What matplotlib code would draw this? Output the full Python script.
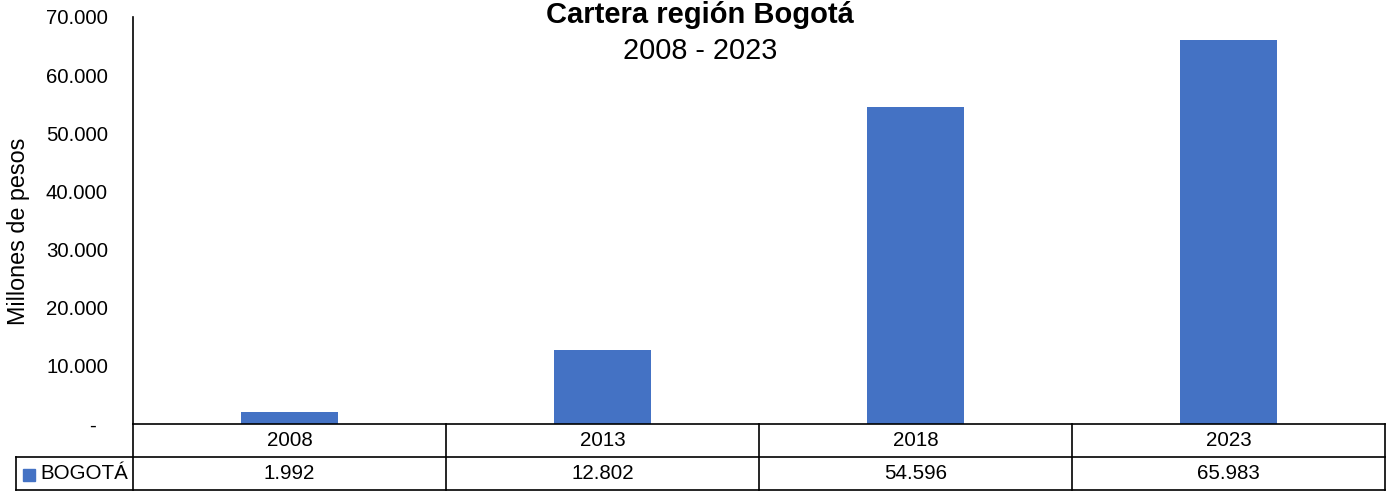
import numpy as np
import matplotlib.pyplot as plt
from matplotlib.ticker import FuncFormatter
from matplotlib.patches import Rectangle

plt.rcParams['font.family'] = ['Liberation Sans', 'DejaVu Sans']

# Data
years = ['2008', '2013', '2018', '2023']
bogota = [1992, 12802, 54596, 65983]
series_name = 'BOGOTÁ'
value_labels = ['1.992', '12.802', '54.596', '65.983']

color = '#4472C4'
W, H = 1391, 492

fig = plt.figure(figsize=(W / 100, H / 100), dpi=100)

# main plot area
ax = fig.add_axes([133 / W, (H - 424) / H, (1385 - 133) / W, (424 - 17) / H])
x = np.arange(len(years))
ax.bar(x, bogota, width=0.31, color=color)
ax.set_xlim(-0.5, len(years) - 0.5)
ax.set_ylim(0, 70000)
ax.set_yticks(np.arange(0, 70001, 10000))


def fmt(v, pos):
    if v == 0:
        return '-  '
    return f'{int(v):,}'.replace(',', '.')


ax.yaxis.set_major_formatter(FuncFormatter(fmt))
ax.tick_params(axis='y', length=0, pad=18, labelsize=14.7)
ax.set_xticks([])
for s in ['top', 'right', 'bottom']:
    ax.spines[s].set_visible(False)
ax.spines['left'].set_linewidth(1.2)
fig.text(19 / W, 1 - 231 / H, 'Millones de pesos', rotation=90, ha='center',
         va='center', fontsize=16.8)

# data table below
lab_w = (133 - 16) / ((1385 - 133) / len(years))
tx = fig.add_axes([16 / W, (H - 490) / H, (1385 - 16) / W, (490 - 424) / H])
tx.set_xlim(-0.5 - lab_w, len(years) - 0.5)
tx.set_ylim(2, 0)
tx.axis('off')
lw = 1.2
kw = dict(color='black', lw=lw, clip_on=False)
# horizontal lines
tx.plot([-0.5, len(years) - 0.5], [0, 0], **kw)
tx.plot([-0.5 - lab_w, len(years) - 0.5], [1, 1], **kw)
tx.plot([-0.5 - lab_w, len(years) - 0.5], [2, 2], **kw)
# vertical lines
tx.plot([-0.5 - lab_w, -0.5 - lab_w], [1, 2], **kw)
for i in range(len(years) + 1):
    tx.plot([i - 0.5, i - 0.5], [0, 2], **kw)
for i, (yr, v) in enumerate(zip(years, value_labels)):
    tx.text(i, 0.5, yr, ha='center', va='center', fontsize=14.8)
    tx.text(i, 1.5, v, ha='center', va='center', fontsize=14.8)
# legend key in table
px = 1 / ((1385 - 133) / len(years))
tx.add_patch(Rectangle((-0.5 - lab_w + 7 * px, 1.35), 12 * px, 0.37, color=color, clip_on=False))
tx.text(-0.5 - lab_w + 24 * px, 1.5, series_name, ha='left', va='center', fontsize=14.8)

# titles
fig.text(700 / W, 1 - 23 / H, 'Cartera región Bogotá', ha='center', va='baseline',
         fontsize=21, fontweight='bold')
fig.text(700 / W, 1 - 59 / H, '2008 - 2023', ha='center', va='baseline', fontsize=20.8)

fig.savefig('out.png', dpi=100)
